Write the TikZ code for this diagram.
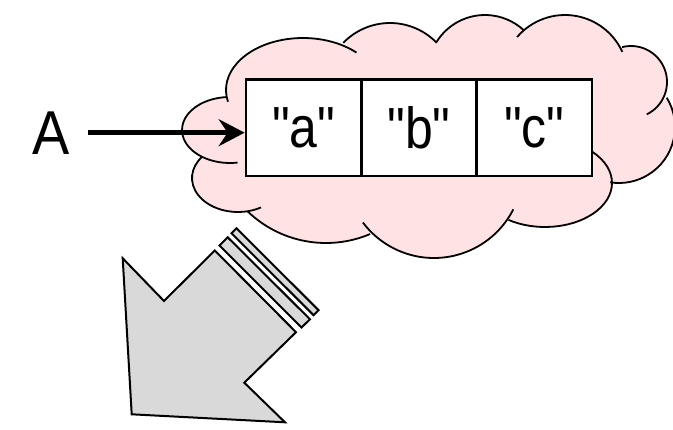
\documentclass[tikz,border=0pt]{standalone}
\usepackage{fontspec}
\setmainfont{Liberation Sans}[Ligatures=TeXOff]
\usetikzlibrary{arrows.meta,calc}
\definecolor{cloudpink}{RGB}{255,226,228}
\definecolor{arrowgray}{RGB}{217,217,217}
\tikzset{
  cloudline/.style={line width=1.8pt, black},
  cellbox/.style={draw=black, line width=2.6pt, fill=white, inner sep=0pt,
    minimum width=115.3pt, minimum height=96.5pt, font=\fontsize{58}{63}\selectfont},
  bigarrow/.style={draw=black, line width=2pt, fill=arrowgray, line join=miter},
  pointer/.style={line width=4.8pt, -{Stealth[length=26pt, width=27pt, inset=9pt]}},
  label/.style={font=\fontsize{62}{68}\selectfont, inner sep=0pt}
}
\begin{document}
\begin{tikzpicture}[x=1pt,y=-1pt]
\useasboundingbox (0,0) rectangle (673,430);
% cloud fill
\fill[cloudpink]
  ($(230,130)+(81:48 and 33)$) arc[start angle=81,end angle=266,x radius=48,y radius=33]
  -- ($(303,90)+(167:77 and 52)$) arc[start angle=167,end angle=314,x radius=77,y radius=52]
  -- ($(390,88)+(224:65 and 65)$) arc[start angle=224,end angle=316,x radius=65,y radius=65]
  -- ($(485,72)+(212:57 and 57)$) arc[start angle=212,end angle=313,x radius=57,y radius=57]
  -- ($(565,78)+(220.5:63 and 63)$) arc[start angle=220.5,end angle=335.5,x radius=63,y radius=63]
  -- ($(631,82)+(255.6:36 and 36)$) arc[start angle=255.6,end angle=424,x radius=36,y radius=36]
  -- ($(619,127)+(-31.5:56 and 56)$) arc[start angle=-31.5,end angle=99,x radius=56,y radius=56]
  -- ($(545,183)+(-45:67 and 44)$) arc[start angle=-45,end angle=123,x radius=67,y radius=44]
  -- ($(434,169)+(27:89 and 89)$) arc[start angle=27,end angle=143,x radius=89,y radius=89]
  -- ($(326,130)+(67:113 and 113)$) arc[start angle=67,end angle=134,x radius=113,y radius=113]
  -- ($(238,178)+(60:46 and 34)$) arc[start angle=60,end angle=219,x radius=46,y radius=34]
  -- cycle;
% cloud outline, one arc per puff
\draw[cloudline] ($(230,130)+(81:48 and 33)$) arc[start angle=81,end angle=266,x radius=48,y radius=33];
\draw[cloudline] ($(303,90)+(167:77 and 52)$) arc[start angle=167,end angle=314,x radius=77,y radius=52];
\draw[cloudline] ($(390,88)+(224:65 and 65)$) arc[start angle=224,end angle=316,x radius=65,y radius=65];
\draw[cloudline] ($(485,72)+(212:57 and 57)$) arc[start angle=212,end angle=313,x radius=57,y radius=57];
\draw[cloudline] ($(565,78)+(220.5:63 and 63)$) arc[start angle=220.5,end angle=335.5,x radius=63,y radius=63];
\draw[cloudline] ($(631,82)+(255.6:36 and 36)$) arc[start angle=255.6,end angle=424,x radius=36,y radius=36];
\draw[cloudline] ($(619,127)+(-31.5:56 and 56)$) arc[start angle=-31.5,end angle=99,x radius=56,y radius=56];
\draw[cloudline] ($(545,183)+(-45:67 and 44)$) arc[start angle=-45,end angle=123,x radius=67,y radius=44];
\draw[cloudline] ($(434,169)+(27:89 and 89)$) arc[start angle=27,end angle=143,x radius=89,y radius=89];
\draw[cloudline] ($(326,130)+(67:113 and 113)$) arc[start angle=67,end angle=134,x radius=113,y radius=113];
\draw[cloudline] ($(238,178)+(60:46 and 34)$) arc[start angle=60,end angle=219,x radius=46,y radius=34];
% array cells
\node[cellbox] (ca) at (303.6,127.75) {\scalebox{0.86}[1]{"a"}};
\node[cellbox] (cb) at (418.9,127.75) {\scalebox{0.86}[1]{"b"}};
\node[cellbox] (cc) at (534.2,127.75) {\scalebox{0.86}[1]{"c"}};
% variable label and pointer
\node[label] (A) at (51,133) {\scalebox{0.9}[1]{A}};
\coordinate (ptrstart) at (88,132.7);
\draw[pointer] (ptrstart) -- (ca.west |- ptrstart);
% big gray arrow
\draw[bigarrow] (122.7,258.3) -- (164,301) -- (214.8,250.5) -- (296,332.2) -- (244.3,382.7) -- (285,422.3) -- (131.7,414.3) -- cycle;
\draw[bigarrow] (219.5,245.5) -- (227.7,237.3) -- (310,319.3) -- (301.5,327.5) -- cycle;
\draw[bigarrow] (231.5,233.3) -- (236.5,228.3) -- (318.6,310.2) -- (313.6,315.2) -- cycle;
\end{tikzpicture}
\end{document}
